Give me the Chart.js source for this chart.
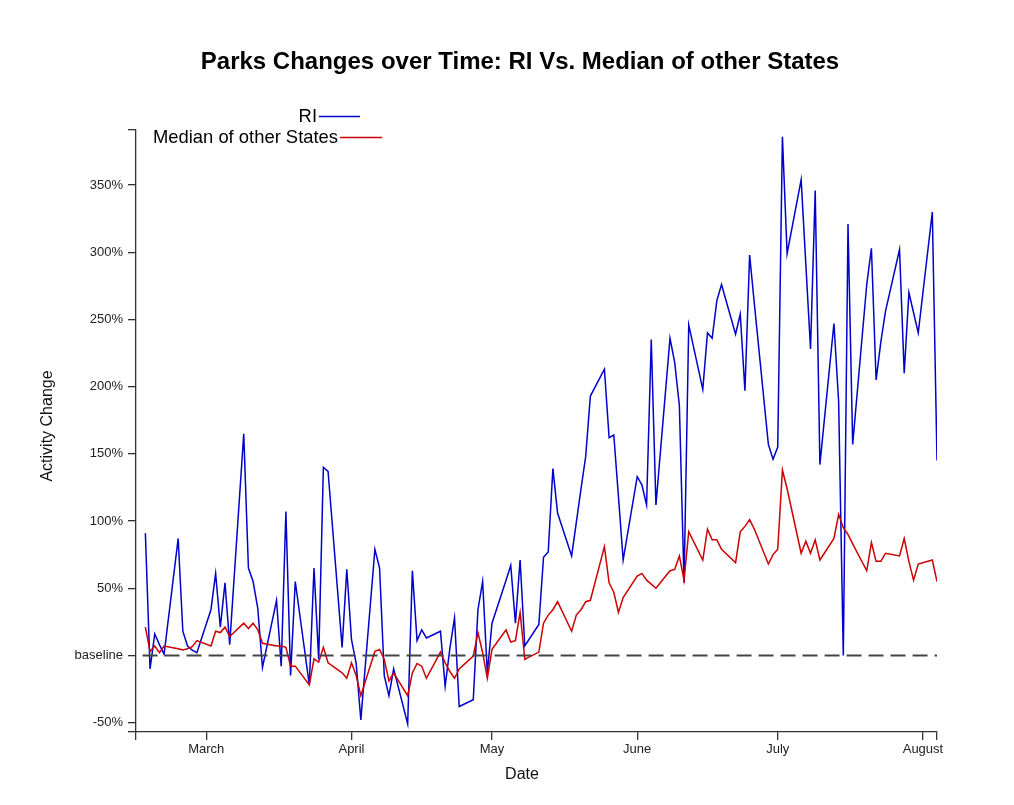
<!DOCTYPE html>
<html>
<head>
<meta charset="utf-8">
<script src="https://cdn.jsdelivr.net/npm/chart.js@4.4.1/dist/chart.umd.min.js"></script>
<style>
  html, body { margin: 0; padding: 0; background: #fff; }
  #chart { display: block; }
</style>
</head>
<body>
<canvas id="chart" width="1014" height="805"></canvas>
<script>
// Chart data (weekday readings, 2020)
const startDate = '2020-02-15';
const endDate = '2020-08-04';

const dates = [
    '02-17', '02-18', '02-19', '02-20', '02-21',
    '02-24', '02-25', '02-26', '02-27', '02-28',
    '03-02', '03-03', '03-04', '03-05', '03-06',
    '03-09', '03-10', '03-11', '03-12', '03-13',
    '03-16', '03-17', '03-18', '03-19', '03-20',
    '03-23', '03-24', '03-25', '03-26', '03-27',
    '03-30', '03-31', '04-01', '04-02', '04-03',
    '04-06', '04-07', '04-08', '04-09', '04-10',
    '04-13', '04-14', '04-15', '04-16', '04-17',
    '04-20', '04-21', '04-22', '04-23', '04-24',
    '04-27', '04-28', '04-29', '04-30', '05-01',
    '05-04', '05-05', '05-06', '05-07', '05-08',
    '05-11', '05-12', '05-13', '05-14', '05-15',
    '05-18', '05-19', '05-20', '05-21', '05-22',
    '05-25', '05-26', '05-27', '05-28', '05-29',
    '06-01', '06-02', '06-03', '06-04', '06-05',
    '06-08', '06-09', '06-10', '06-11', '06-12',
    '06-15', '06-16', '06-17', '06-18', '06-19',
    '06-22', '06-23', '06-24', '06-25', '06-26',
    '06-29', '06-30', '07-01', '07-02', '07-03',
    '07-06', '07-07', '07-08', '07-09', '07-10',
    '07-13', '07-14', '07-15', '07-16', '07-17',
    '07-20', '07-21', '07-22', '07-23', '07-24',
    '07-27', '07-28', '07-29', '07-30', '07-31',
    '08-03', '08-04'
];

const riValues = [
    91, -10, 16, 8, 1,
    87, 18, 7, 4, 2,
    34, 61, 21, 54, 8,
    165, 65, 55, 35, -9,
    41, -8, 107, -15, 55,
    -22, 65, -3, 140, 137,
    6, 64, 12, -6, -48,
    79, 65, -15, -30, -10,
    -51, 63, 11, 19, 13,
    18, -23, 5, 28, -38,
    -33, 34, 55, -13, 24,
    56, 67, 24, 71, 7,
    23, 73, 77, 139, 106,
    74, 99, 124, 148, 193,
    213, 162, 164, 118, 71,
    133, 127, 112, 235, 112,
    236, 218, 186, 54, 246,
    198, 240, 236, 264, 276,
    239, 254, 197, 298, 262,
    157, 146, 155, 386, 299,
    354, 291, 228, 346, 142,
    247, 189, 0, 321, 157,
    276, 303, 205, 233, 256,
    302, 210, 270, 255, 240,
    330, 145
];

const medianValues = [
    21, 3, 7, 2, 7,
    5, 4, 5, 6.5, 11,
    7, 18, 17, 21, 14,
    24, 20, 24, 19, 9,
    7, 7, 6, -8, -8,
    -22, -2.5, -5, 6, -5.5,
    -13, -17, -5.5, -15, -30,
    3, 4.5, -3, -19, -13,
    -30, -13, -6, -8, -17,
    2.5, -5.5, -12, -17, -10,
    -0.5, 17, 2, -17, 4.5,
    19, 10, 11, 32, -3,
    2.5, 24, 30, 34, 40,
    18, 30, 34, 40, 41,
    81, 54, 47, 32, 43,
    59, 61, 56, 53, 50,
    63, 64, 74, 56, 92,
    71, 94, 86, 86, 79,
    69, 92, 96, 101, 94,
    68, 75, 79, 138, 124,
    76, 85, 76, 86, 71,
    87, 105, 95, 90, 83,
    63, 84, 70, 70, 76,
    74, 87, 70, 56, 68,
    71, 55
];

const monthStarts = ['03-01', '04-01', '05-01', '06-01', '07-01', '08-01'];
const monthLabels = ['March', 'April', 'May', 'June', 'July', 'August'];

const yTicks = [-50, 0, 50, 100, 150, 200, 250, 300, 350];
const yTickLabels = ['-50%', 'baseline', '50%', '100%', '150%', '200%', '250%', '300%', '350%'];
const yMin = -57;
const yMax = 391;

const seriesNames = ['RI', 'Median of other States'];
const seriesColors = ['#0000cc', '#cc0000'];

// Helpers: turn dates into day numbers from the axis start
const DAY = 86400000;
const dayOf = (s) => (Date.parse(s) - Date.parse(startDate)) / DAY;
const dayOfMD = (md) => dayOf('2020-' + md);

const xMax = dayOf(endDate);
const riPoints = dates.map((d, i) => ({ x: dayOfMD(d), y: riValues[i] }));
const medianPoints = dates.map((d, i) => ({ x: dayOfMD(d), y: medianValues[i] }));
const baselinePoints = [{ x: 1.4, y: 0 }, { x: xMax, y: 0 }];

const monthDays = monthStarts.map(dayOfMD);
const FONT = '"Liberation Sans", Arial, sans-serif';

// Title, legend and axis titles
const annotations = {
    id: 'annotations',
    afterDraw(chart) {
        const ctx = chart.ctx;
        ctx.save();
        ctx.fillStyle = '#000';
        ctx.textBaseline = 'middle';

        ctx.font = 'bold 24px ' + FONT;
        ctx.textAlign = 'center';
        ctx.fillText('Parks Changes over Time: RI Vs. Median of other States', 520, 62);

        // legend: text then line sample
        ctx.font = '18.4px ' + FONT;
        ctx.textAlign = 'right';
        const rows = [{ right: 317, y: 117, len: 41 }, { right: 338, y: 138, len: 42 }];
        rows.forEach((r, i) => {
            ctx.fillStyle = '#000';
            ctx.fillText(seriesNames[i], r.right, r.y);
            ctx.strokeStyle = seriesColors[i];
            ctx.lineWidth = 1.3;
            ctx.beginPath();
            ctx.moveTo(r.right + 2, r.y - 0.5);
            ctx.lineTo(r.right + 2 + r.len, r.y - 0.5);
            ctx.stroke();
        });

        ctx.fillStyle = '#111';
        ctx.font = '16px ' + FONT;
        ctx.textAlign = 'center';
        ctx.fillText('Date', 522, 775);

        ctx.translate(48, 426);
        ctx.rotate(-Math.PI / 2);
        ctx.fillText('Activity Change', 0, 0);
        ctx.restore();
    }
};

new Chart(document.getElementById('chart').getContext('2d'), {
    type: 'line',
    data: {
        datasets: [
            {
                label: 'baseline',
                data: baselinePoints,
                borderColor: '#444',
                borderWidth: 2,
                borderDash: [15, 7],
                pointRadius: 0,
                order: 0
            },
            {
                label: seriesNames[1],
                data: medianPoints,
                borderColor: seriesColors[1],
                borderWidth: 1.5,
                pointRadius: 0,
                tension: 0,
                order: 1
            },
            {
                label: seriesNames[0],
                data: riPoints,
                borderColor: seriesColors[0],
                borderWidth: 1.5,
                pointRadius: 0,
                tension: 0,
                order: 2
            }
        ]
    },
    options: {
        responsive: false,
        animation: false,
        layout: { padding: { top: 130, right: 77, bottom: 0, left: 0 } },
        plugins: {
            legend: { display: false },
            tooltip: { enabled: false },
            title: { display: false }
        },
        scales: {
            x: {
                type: 'linear',
                min: 0,
                max: xMax,
                afterFit: (s) => { s.height = 73; },
                afterBuildTicks: (s) => {
                    s.ticks = [0, ...monthDays, xMax].map(v => ({ value: v }));
                },
                ticks: {
                    autoSkip: false,
                    maxRotation: 0,
                    padding: 2,
                    color: '#222',
                    font: { family: FONT, size: 13 },
                    callback: (v) => {
                        const i = monthDays.indexOf(v);
                        return i >= 0 ? monthLabels[i] : '';
                    }
                },
                grid: { drawOnChartArea: false, drawTicks: true, tickLength: 8, color: '#333', lineWidth: 1.3 },
                border: { display: true, color: '#333', width: 1.3 }
            },
            y: {
                type: 'linear',
                min: yMin,
                max: yMax,
                afterFit: (s) => { s.width = 136; },
                afterBuildTicks: (s) => {
                    s.ticks = [yMin, ...yTicks, yMax].map(v => ({ value: v }));
                },
                ticks: {
                    autoSkip: false,
                    padding: 5,
                    color: '#222',
                    font: { family: FONT, size: 13 },
                    callback: (v) => {
                        const i = yTicks.indexOf(v);
                        return i >= 0 ? yTickLabels[i] : '';
                    }
                },
                grid: { drawOnChartArea: false, drawTicks: true, tickLength: 8, color: '#333', lineWidth: 1.3 },
                border: { display: true, color: '#333', width: 1.3 }
            }
        }
    },
    plugins: [annotations]
});
</script>
</body>
</html>
